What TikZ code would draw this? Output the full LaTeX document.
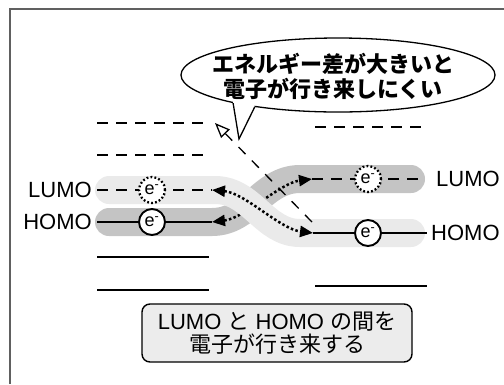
\documentclass[tikz,border=0pt]{standalone}
\usepackage{fontspec}
\setmainfont{Liberation Sans}
\newfontfamily\cjk{Noto Sans CJK JP}
\usetikzlibrary{arrows.meta,shapes.geometric}

\definecolor{bandlight}{HTML}{EAEAEA}
\definecolor{banddark}{HTML}{C4C4C4}
\definecolor{boxfill}{HTML}{ECECEC}
\definecolor{framegray}{HTML}{606060}

\begin{document}
\begin{tikzpicture}[x=1pt,y=-1pt,
  solidlevel/.style={line width=1.8pt},
  dashlevel/.style={line width=1.8pt, dash pattern=on 11pt off 8pt},
  band/.style={line width=28pt, line cap=round},
  elec/.style={circle, draw, fill=white, line width=1.9pt, minimum size=26pt, inner sep=0pt, font=\fontsize{18}{18}\selectfont},
  elecdot/.style={elec, line width=2.3pt, dash pattern=on 1.8pt off 2.2pt},
  lbl/.style={font=\fontsize{22}{22}\selectfont, inner sep=0pt},
  xfer/.style={line width=2.5pt, dash pattern=on 2.5pt off 2.3pt,
    {Triangle[length=13pt,width=11pt]}-{Triangle[length=13pt,width=11pt]}},
  gapline/.style={line width=1.3pt, dash pattern=on 10pt off 9pt,
    -{Triangle[length=15pt,width=12pt,fill=white]}},
]
\useasboundingbox (0,0) rectangle (504,384);

% frame
\draw[framegray, line width=1.5pt] (10,384) -- (10,9) -- (504,9);

% coordinates of the levels
\coordinate (lumoLa) at (97,190);  \coordinate (lumoLb) at (212,190);
\coordinate (homoLa) at (97,222);  \coordinate (homoLb) at (212,222);
\coordinate (lumoRa) at (312,179); \coordinate (lumoRb) at (425,179);
\coordinate (homoRa) at (313,233); \coordinate (homoRb) at (427,233);

% dark band (left HOMO -> right LUMO)
\draw[band, banddark] (109,222) -- (212,222) .. controls (250,222) and (262,179) .. (300,179) -- (411,179);
% transfer arrow under the light band
\draw[xfer] (homoLb) .. controls (245,218) and (280,183) .. (lumoRa);
% light band (left LUMO -> right HOMO)
\draw[band, bandlight] (109,190) -- (215,190) .. controls (252,190) and (264,233) .. (300,233) -- (411,233);
\draw[xfer] (lumoLb) .. controls (245,193) and (280,229) .. (homoRa);

% levels on the left
\draw[dashlevel] (97,123) -- (210,123);
\draw[dashlevel] (97,155) -- (210,155);
\draw[dashlevel] (lumoLa) -- (lumoLb);
\draw[solidlevel] (homoLa) -- (homoLb);
\draw[solidlevel] (97,257) -- (209,257);
\draw[solidlevel] (97,290) -- (209,290);

% levels on the right
\draw[dashlevel] (315,127) -- (427,127);
\draw[dashlevel] (lumoRa) -- (lumoRb);
\draw[solidlevel] (homoRa) -- (homoRb);
\draw[solidlevel] (315,286) -- (427,286);

% electrons
\node[elecdot] (eLL) at (152,190) {e\textsuperscript{-}};
\node[elec]    (eHL) at (152,222) {e\textsuperscript{-}};
\node[elecdot] (eLR) at (368,179) {e\textsuperscript{-}};
\node[elec]    (eHR) at (368,233) {e\textsuperscript{-}};

% labels
\node[lbl, anchor=east] (tLL) at (92,190) {LUMO};
\node[lbl, anchor=east] (tHL) at (92,222) {HOMO};
\node[lbl, anchor=west] (tLR) at (436,179) {LUMO};
\node[lbl, anchor=west] (tHR) at (431,233) {HOMO};

% energy gap dashed line with open arrow
\coordinate (gapStart) at (312,222);
\coordinate (gapTip) at (215,123);
\draw[gapline] (gapStart) -- (gapTip);

% callout
\node[ellipse, draw, fill=white, line width=1.3pt, minimum width=314pt, minimum height=74pt, inner sep=0pt] (callout) at (338,75) {};
\coordinate (tailTip) at (239,139);
\fill[white] (callout.195.35) -- (tailTip) -- (callout.201.7) -- ([yshift=8pt]callout.201.7) -- ([yshift=8pt]callout.195.35) -- cycle;
\draw[line width=1.3pt, line join=miter] (callout.195.35) -- (tailTip) -- (callout.201.7);
\node[align=center, font=\fontsize{22}{25}\selectfont\cjk\bfseries] (calloutText) at (333,76)
  {エネルギー差が大きいと\\電子が行き来しにくい};

% bottom box
\node[draw, fill=boxfill, rounded corners=8pt, line width=1.4pt, minimum width=270pt, minimum height=58pt, align=center,
  font=\fontsize{22}{23}\selectfont] (note) at (277,333)
  {LUMO {\cjk と} HOMO {\cjk の間を}\\{\cjk 電子が行き来する}};
\end{tikzpicture}
\end{document}
